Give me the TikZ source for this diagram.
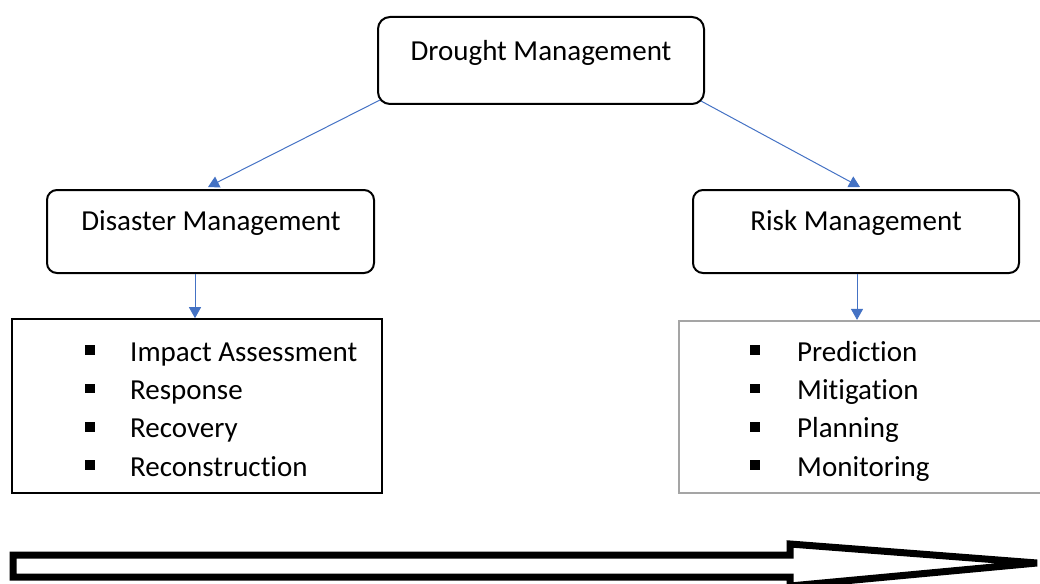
\documentclass[tikz,border=0pt]{standalone}
\usepackage{fontspec}
\setmainfont[RawFeature=-liga]{Carlito}
\usetikzlibrary{arrows.meta,calc}
\definecolor{linkblue}{RGB}{68,114,196}
\definecolor{boxgray}{RGB}{165,165,165}
\tikzset{
  rbox/.style={draw=black,line width=2pt,rounded corners=12pt,fill=white,inner sep=0pt,minimum width=#1},
  txt/.style={font=\fontsize{29}{35}\selectfont,inner sep=0pt,anchor=base},
  itemtxt/.style={font=\fontsize{29}{35}\selectfont,inner sep=0pt,anchor=base west},
  bul/.style={fill=black,inner sep=0pt,minimum size=9.5pt},
  link/.style={draw=linkblue,line width=1pt,-{Triangle[length=11pt,width=12pt]}},
}
\begin{document}
\begin{tikzpicture}[x=1pt,y=-1pt]
\useasboundingbox (0,0) rectangle (1040,583);
% top box
\node[rbox=326pt,minimum height=87pt] (drought) at (541,60.5) {};
\node[txt] (droughtT) at (541,61) {Drought Management};
% second level
\node[rbox=327pt,minimum height=83pt,rounded corners=10pt] (disaster) at (210.5,231.5) {};
\node[txt] (disasterT) at (211,230) {Disaster Management};
\node[rbox=326pt,minimum height=83pt,rounded corners=10pt] (risk) at (856,231.5) {};
\node[txt] (riskT) at (856,230) {Risk Management};
% list boxes
\node[draw=black,line width=1.6pt,minimum width=370pt,minimum height=174pt,inner sep=0pt] (dlist) at (197,406) {};
\node[draw=boxgray,line width=2.2pt,minimum width=370pt,minimum height=172pt,inner sep=0pt] (rlist) at (864,407) {};
% left items
\foreach \t [count=\i] in {Impact Assessment,Response,Recovery,Reconstruction}{
  \node[bul] (db\i) at (90,{350+38.4*(\i-1)}) {};
  \node[itemtxt] (dt\i) at (130,{361+38.4*(\i-1)}) {\t};
}
\foreach \t [count=\i] in {Prediction,Mitigation,Planning,Monitoring}{
  \node[bul] (rb\i) at (755,{350+38.4*(\i-1)}) {};
  \node[itemtxt] (rt\i) at (797,{361+38.4*(\i-1)}) {\t};
}
% connectors
\draw[link] ($(drought.south west)+(3,-5)$) -- ($(disaster.north)+(-2.5,-2)$);
\draw[link] ($(drought.south east)+(-4,-4)$) -- ($(risk.north)+(4,-2)$);
\draw[link] ($(disaster.south)+(-15.5,0)$) -- ($(dlist.north)+(-2,0)$);
\draw[link] ($(risk.south)+(1,0)$) -- ($(rlist.north)+(-7,0)$);
% big arrow
\draw[line width=7pt,fill=white,miter limit=10]
  (13,555) -- (790,555) -- (790,544) -- (1037,563) -- (790,586) -- (790,577) -- (13,577) -- cycle;
\end{tikzpicture}
\end{document}
